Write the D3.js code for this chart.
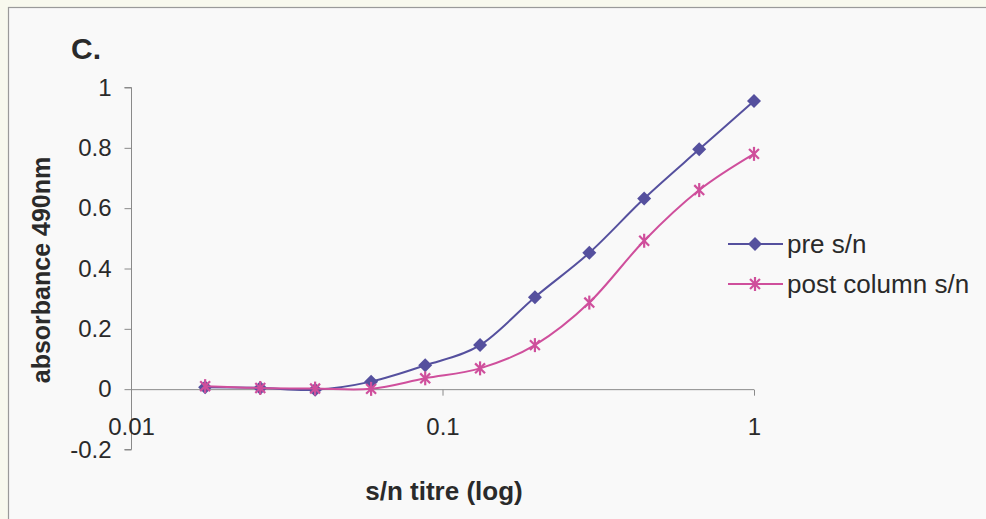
<!DOCTYPE html>
<html>
<head>
<meta charset="utf-8">
<script src="https://cdn.jsdelivr.net/npm/d3@7"></script>
<style>
  body { margin: 0; background: #f8f9ee; }
  text { font-family: "Liberation Sans", Arial, sans-serif; fill: #2a2a2a; }
</style>
</head>
<body>
<div id="chart"></div>
<script>
// titre dilutions (1 / 1.5^n)
var titre = [1, 0.667, 0.444, 0.296, 0.198, 0.132, 0.088, 0.059, 0.039, 0.026, 0.0173];
var preSn = [0.955, 0.795, 0.632, 0.452, 0.305, 0.146, 0.079, 0.025, -0.002, 0.004, 0.006];
var postSn = [0.78, 0.66, 0.492, 0.287, 0.146, 0.069, 0.036, 0.001, 0.002, 0.004, 0.01];
var xTicks = [0.01, 0.1, 1];
var yTicks = [-0.2, 0, 0.2, 0.4, 0.6, 0.8, 1];
var seriesNames = ["pre s/n", "post column s/n"];

var W = 986, H = 519;
var svg = d3.select("#chart").append("svg")
    .attr("width", W)
    .attr("height", H);

// chart area panel
svg.append("rect")
    .attr("x", 8.5).attr("y", 7.5)
    .attr("width", W).attr("height", H)
    .attr("fill", "#f9f9f9")
    .attr("stroke", "#9a9a9a")
    .attr("stroke-width", 1.2);

var x = d3.scaleLog().domain([0.01, 1]).range([131, 754]);
var y = d3.scaleLinear().domain([-0.2, 1]).range([449.5, 87.5]);

// y axis
var yAxis = svg.append("g")
    .attr("transform", "translate(" + 131.5 + ",0)")
    .call(d3.axisLeft(y).tickValues(yTicks).tickSize(7).tickPadding(13)
        .tickFormat(function(d) { return String(+d.toFixed(1)); }));
yAxis.select(".domain").attr("stroke", "#8a8a8a").attr("d", "M-7," + y(1) + "H0V" + y(-0.2) + "H-7");
yAxis.selectAll(".tick line").attr("stroke", "#8a8a8a");
yAxis.selectAll("text").style("font-size", "24px").attr("fill", "#2a2a2a");

// x axis sits on y = 0
var xAxis = svg.append("g")
    .attr("transform", "translate(0," + (y(0) + 0.5) + ")")
    .call(d3.axisBottom(x).tickValues(xTicks).tickSize(6).tickPadding(22)
        .tickFormat(function(d) { return d; }));
xAxis.select(".domain").attr("stroke", "#8a8a8a").attr("d", "M" + x(0.01) + ",0H" + x(1));
xAxis.selectAll(".tick line").attr("stroke", "#8a8a8a");
xAxis.selectAll("text").style("font-size", "24px").attr("fill", "#2a2a2a");

// titles
svg.append("text")
    .attr("x", 71).attr("y", 59)
    .style("font-size", "30px").style("font-weight", "bold")
    .text("C.");

svg.append("text")
    .attr("x", 444).attr("y", 500)
    .attr("text-anchor", "middle")
    .style("font-size", "26px").style("font-weight", "bold")
    .text("s/n titre (log)");

svg.append("text")
    .attr("transform", "translate(50,270) rotate(-90)")
    .attr("text-anchor", "middle")
    .style("font-size", "25px").style("font-weight", "bold")
    .text("absorbance 490nm");

var colors = ["#55509e", "#cf4f9c"];
var line = d3.line()
    .x(function(d) { return x(d[0]); })
    .y(function(d) { return y(d[1]); })
    .curve(d3.curveCatmullRom.alpha(0));

var allSeries = [preSn, postSn];

function diamond(g, color) {
    g.append("path")
        .attr("d", "M0,-7L7,0L0,7L-7,0Z")
        .attr("fill", color);
}

function star(g, color) {
    var r = 7;
    [45, 90, 135].forEach(function(a) {
        var rad = a * Math.PI / 180;
        g.append("line")
            .attr("x1", -r * Math.cos(rad)).attr("y1", -r * Math.sin(rad))
            .attr("x2", r * Math.cos(rad)).attr("y2", r * Math.sin(rad))
            .attr("stroke", color).attr("stroke-width", 2.2);
    });
}

allSeries.forEach(function(vals, i) {
    var pts = titre.map(function(t, j) { return [t, vals[j]]; });
    svg.append("path")
        .datum(pts)
        .attr("d", line)
        .attr("fill", "none")
        .attr("stroke", colors[i])
        .attr("stroke-width", 2);

    pts.forEach(function(p) {
        var g = svg.append("g")
            .attr("transform", "translate(" + x(p[0]) + "," + y(p[1]) + ")");
        if (i == 0) diamond(g, colors[i]);
        else star(g, colors[i]);
    });
});

// legend
seriesNames.forEach(function(name, i) {
    var ly = 244 + i * 40;
    svg.append("line")
        .attr("x1", 728).attr("x2", 783)
        .attr("y1", ly).attr("y2", ly)
        .attr("stroke", colors[i]).attr("stroke-width", 2);
    var g = svg.append("g").attr("transform", "translate(755," + ly + ")");
    if (i == 0) diamond(g, colors[i]);
    else star(g, colors[i]);
    svg.append("text")
        .attr("x", 787).attr("y", ly + 9)
        .style("font-size", "26px")
        .text(name);
});
</script>
</body>
</html>
